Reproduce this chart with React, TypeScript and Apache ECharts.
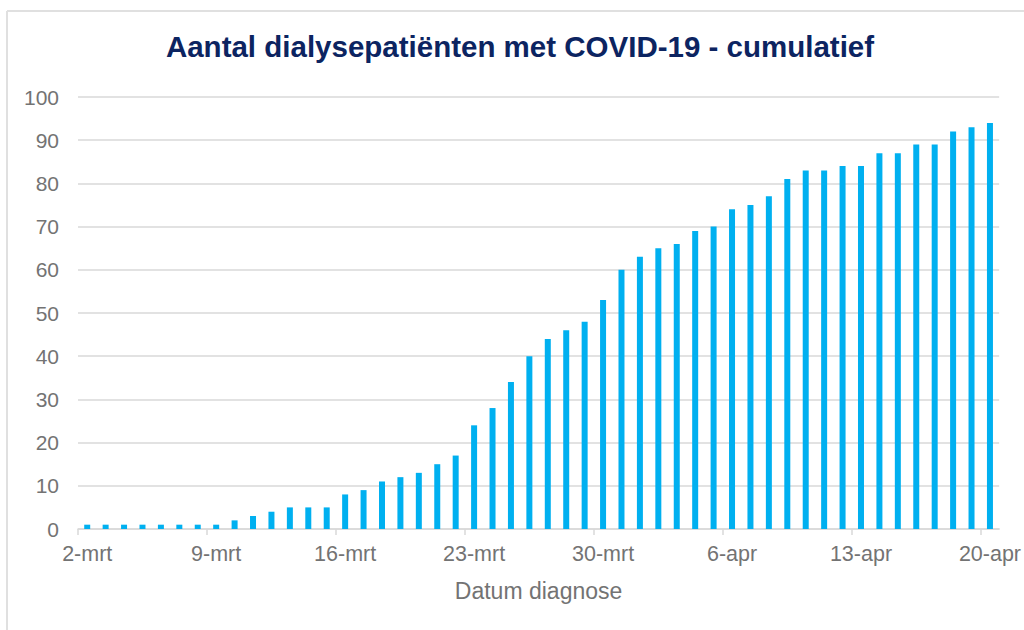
import React, { useEffect, useRef } from "react";
import * as echarts from "echarts";

const TITLE = "Aantal dialysepatiënten met COVID-19 - cumulatief";
const X_NAME = "Datum diagnose";

const categories = [
  "2-mrt", "3-mrt", "4-mrt", "5-mrt", "6-mrt", "7-mrt", "8-mrt",
  "9-mrt", "10-mrt", "11-mrt", "12-mrt", "13-mrt", "14-mrt", "15-mrt",
  "16-mrt", "17-mrt", "18-mrt", "19-mrt", "20-mrt", "21-mrt", "22-mrt",
  "23-mrt", "24-mrt", "25-mrt", "26-mrt", "27-mrt", "28-mrt", "29-mrt",
  "30-mrt", "31-mrt", "1-apr", "2-apr", "3-apr", "4-apr", "5-apr",
  "6-apr", "7-apr", "8-apr", "9-apr", "10-apr", "11-apr", "12-apr",
  "13-apr", "14-apr", "15-apr", "16-apr", "17-apr", "18-apr", "19-apr",
  "20-apr",
];

const patients = [
  1, 1, 1, 1, 1, 1, 1,
  1, 2, 3, 4, 5, 5, 5,
  8, 9, 11, 12, 13, 15, 17,
  24, 28, 34, 40, 44, 46, 48,
  53, 60, 63, 65, 66, 69, 70,
  74, 75, 77, 81, 83, 83, 84,
  84, 87, 87, 89, 89, 92, 93,
  94,
];

// positions (category index boundaries) of the week tick marks
const weekTickPositions = [0, 7, 14, 21, 28, 35, 42, 49];

const FONT = "'Liberation Sans', Arial, Helvetica, sans-serif";
const GRAY = "#737373";
const GRID = "#d9d9d9";

export default function App() {
  const ref = useRef<HTMLDivElement>(null);

  useEffect(() => {
    if (!ref.current) return;
    const chart = echarts.init(ref.current, null, { renderer: "svg" });
    chart.setOption({
      animation: false,
      backgroundColor: "#ffffff",
      textStyle: { fontFamily: FONT },
      title: {
        text: TITLE,
        left: 520,
        top: 31,
        padding: 0,
        textAlign: "center",
        textStyle: {
          fontFamily: FONT,
          fontSize: 29.5,
          fontWeight: "bold",
          color: "#0c2461",
        },
      },
      graphic: [
        {
          type: "line",
          shape: { x1: 7, y1: 11, x2: 1024, y2: 11 },
          style: { stroke: "#e0e0e0", lineWidth: 2 },
        },
        {
          type: "line",
          shape: { x1: 7, y1: 11, x2: 7, y2: 630 },
          style: { stroke: "#e0e0e0", lineWidth: 2 },
        },
      ],
      grid: { left: 78, right: 22, top: 97, bottom: 101, containLabel: false },
      xAxis: [
        {
          type: "category",
          data: categories,
          position: "bottom",
          boundaryGap: true,
          axisLine: { show: true, lineStyle: { color: GRID, width: 1.5 } },
          axisTick: { show: false },
          axisLabel: {
            interval: 6,
            margin: 14,
            fontSize: 21.5,
            color: GRAY,
            fontFamily: FONT,
          },
          splitLine: { show: false },
          name: X_NAME,
          nameLocation: "middle",
          nameGap: 50,
          nameTextStyle: { fontSize: 23, color: GRAY, fontFamily: FONT },
        },
        {
          type: "value",
          min: 0,
          max: categories.length,
          position: "bottom",
          offset: 0,
          axisLine: { show: false },
          axisLabel: { show: false },
          splitLine: { show: false },
          axisTick: {
            show: true,
            length: 6,
            customValues: weekTickPositions,
            lineStyle: { color: GRID, width: 1.5 },
          },
        },
      ],
      yAxis: {
        type: "value",
        min: 0,
        max: 100,
        interval: 10,
        axisLine: { show: false },
        axisTick: { show: false },
        axisLabel: { margin: 19, fontSize: 21, color: GRAY, fontFamily: FONT },
        splitLine: { show: true, lineStyle: { color: GRID, width: 1.5 } },
      },
      series: [
        {
          type: "bar",
          xAxisIndex: 0,
          yAxisIndex: 0,
          data: patients,
          barWidth: 6,
          itemStyle: { color: "#00b0f0" },
        },
      ],
    });
    return () => chart.dispose();
  }, []);

  return (
    <div
      ref={ref}
      style={{ position: "fixed", left: 0, top: 0, width: 1024, height: 630 }}
    />
  );
}
